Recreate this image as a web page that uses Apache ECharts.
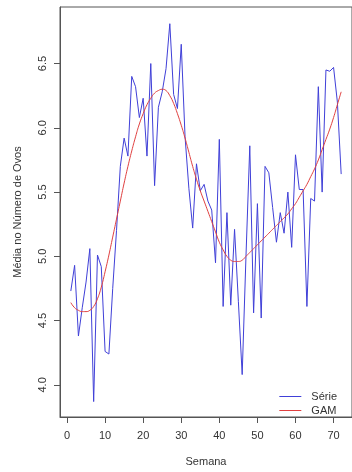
<!DOCTYPE html>
<html>
<head>
<meta charset="utf-8">
<script src="https://cdn.jsdelivr.net/npm/echarts@6/dist/echarts.min.js"></script>
<style>
html,body{margin:0;padding:0;background:#fff;}
#chart{width:352px;height:472px;}
</style>
</head>
<body>
<div id="chart"></div>
<script>
// Weeks 1..72
const weeks = Array.from({length: 72}, (_, i) => i + 1);
// Observed series ("Série")
const serie = [
  4.73, 4.93, 4.38, 4.60, 4.80, 5.06, 3.87, 5.01, 4.92, 4.26,
  4.24, 4.75, 5.20, 5.70, 5.92, 5.78, 6.40, 6.32, 6.08, 6.23,
  5.78, 6.50, 5.55, 6.16, 6.28, 6.46, 6.81, 6.26, 6.15, 6.65,
  5.93, 5.53, 5.22, 5.72, 5.51, 5.56, 5.43, 5.36, 4.95, 5.91,
  4.61, 5.34, 4.62, 5.21, 4.65, 4.08, 5.00, 5.86, 4.56, 5.41,
  4.52, 5.70, 5.65, 5.38, 5.11, 5.34, 5.18, 5.50, 5.07, 5.79,
  5.52, 5.52, 4.61, 5.45, 5.43, 6.32, 5.50, 6.45, 6.44, 6.47,
  6.20, 5.64
];
// GAM smooth fit
const gam = [
  4.64, 4.60, 4.58, 4.57, 4.57, 4.58, 4.61, 4.67, 4.76, 4.88,
  5.01, 5.15, 5.29, 5.43, 5.57, 5.70, 5.82, 5.93, 6.03, 6.11,
  6.18, 6.23, 6.27, 6.29, 6.30, 6.29, 6.25, 6.19, 6.11, 6.02,
  5.92, 5.81, 5.70, 5.60, 5.51, 5.43, 5.35, 5.27, 5.19, 5.11,
  5.05, 5.00, 4.97, 4.96, 4.96, 4.97, 5.00, 5.03, 5.06, 5.09,
  5.12, 5.15, 5.18, 5.21, 5.24, 5.27, 5.30, 5.33, 5.37, 5.41,
  5.46, 5.51, 5.56, 5.62, 5.68, 5.75, 5.83, 5.91, 5.99, 6.08,
  6.18, 6.28
];
const xTicks = [0, 10, 20, 30, 40, 50, 60, 70];
const yTicks = [4.0, 4.5, 5.0, 5.5, 6.0, 6.5];

const seriePts = weeks.map((w, i) => [w, serie[i]]);
const gamPts = weeks.map((w, i) => [w, gam[i]]);

const FONT = 'Liberation Sans';
const TXT = '#333';
const AX = '#555';

const chart = echarts.init(document.getElementById('chart'), null, {renderer: 'canvas'});
chart.setOption({
  animation: false,
  backgroundColor: '#fff',
  textStyle: {fontFamily: FONT},
  grid: {
    left: 60, top: 7, width: 294, height: 413,
    show: true, borderColor: AX, borderWidth: 1, backgroundColor: 'transparent'
  },
  legend: {
    orient: 'vertical',
    right: 10, top: 386,
    itemWidth: 22, itemHeight: 1,
    itemGap: 3,
    icon: 'rect',
    textStyle: {fontFamily: FONT, fontSize: 11, color: TXT, padding: [0, 0, 0, 5]},
    data: ['Série', 'GAM']
  },
  xAxis: {
    type: 'value',
    min: -1.84, max: 74.84,
    name: 'Semana',
    nameLocation: 'middle',
    nameGap: 39,
    nameTextStyle: {fontFamily: FONT, fontSize: 11, color: TXT},
    splitLine: {show: false},
    axisLine: {show: true, onZero: false, lineStyle: {color: AX, width: 1}},
    axisTick: {show: true, length: 6, lineStyle: {color: AX}, customValues: xTicks},
    axisLabel: {
      fontFamily: FONT, fontSize: 11, color: TXT, margin: 13,
      customValues: xTicks,
      formatter: v => String(Math.round(v))
    }
  },
  yAxis: {
    type: 'value',
    min: 3.75, max: 6.94,
    name: 'Média no Número de Ovos',
    nameLocation: 'middle',
    nameGap: 37,
    nameRotate: 90,
    nameTextStyle: {fontFamily: FONT, fontSize: 11, color: TXT},
    splitLine: {show: false},
    axisLine: {show: true, onZero: false, lineStyle: {color: AX, width: 1}},
    axisTick: {show: true, length: 6, lineStyle: {color: AX}, customValues: yTicks},
    axisLabel: {
      fontFamily: FONT, fontSize: 11, color: TXT, margin: 12,
      rotate: 90, align: 'center', verticalAlign: 'bottom',
      customValues: yTicks,
      formatter: v => v.toFixed(1)
    }
  },
  series: [
    {
      name: 'Série', type: 'line', data: seriePts,
      showSymbol: false, symbol: 'none',
      lineStyle: {color: '#4040d8', width: 1},
      itemStyle: {color: '#4040d8'}
    },
    {
      name: 'GAM', type: 'line', data: gamPts, smooth: true,
      showSymbol: false, symbol: 'none',
      lineStyle: {color: '#e04040', width: 1},
      itemStyle: {color: '#e04040'}
    }
  ]
});
</script>
</body>
</html>
